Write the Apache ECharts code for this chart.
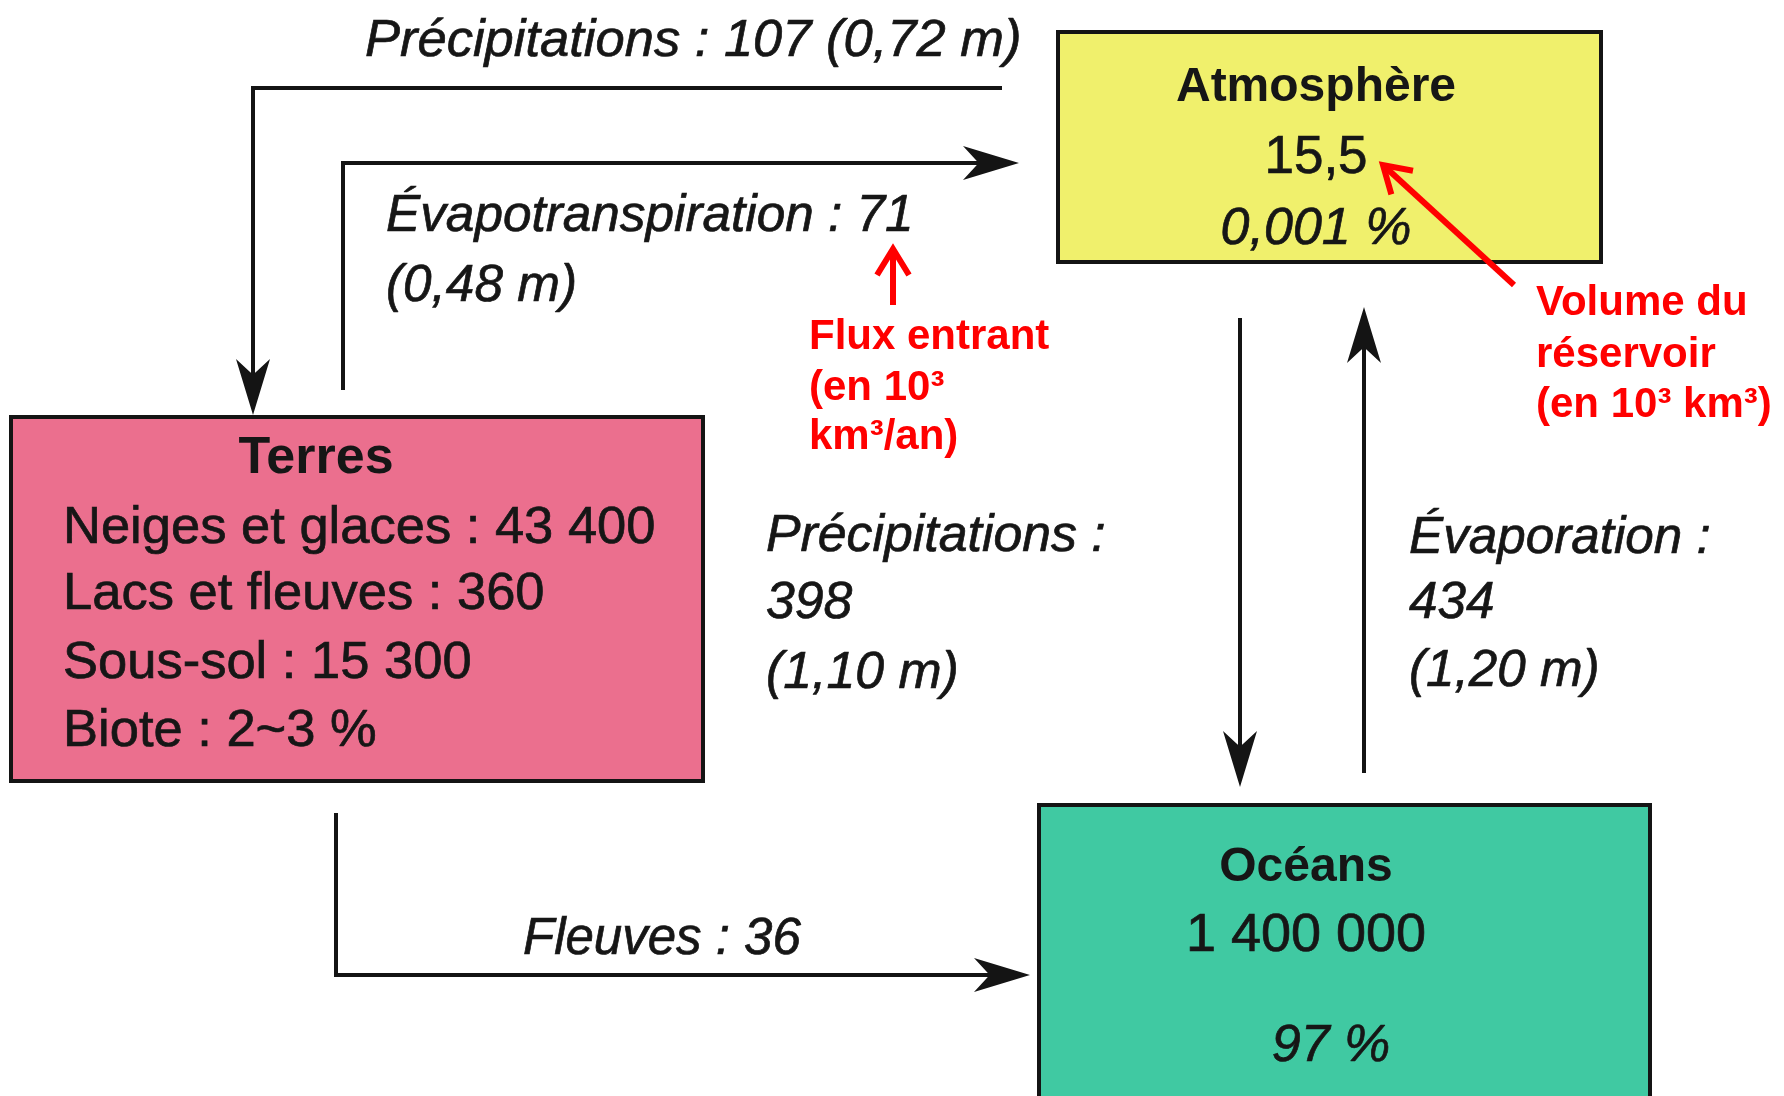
<!DOCTYPE html>
<html>
<head>
<meta charset="utf-8">
<script src="https://cdn.jsdelivr.net/npm/echarts@6/dist/echarts.min.js"></script>
<style>
html,body{margin:0;padding:0;background:#fff;}
#chart{width:1784px;height:1096px;}
</style>
</head>
<body>
<div id="chart"></div>
<script>
// ---------- DATA ----------
const reservoirNames = ['Atmosphère', 'Terres', 'Océans'];
const atmosphereValues = ['15,5', '0,001 %'];
const terresItems = ['Neiges et glaces', 'Lacs et fleuves', 'Sous-sol', 'Biote'];
const terresValues = ['43 400', '360', '15 300', '2~3 %'];
const oceanValues = ['1 400 000', '97 %'];
const fluxNames = ['Précipitations', 'Évapotranspiration', 'Précipitations', 'Évaporation', 'Fleuves'];
const fluxValues = [107, 71, 398, 434, 36];
const fluxDepths = ['0,72 m', '0,48 m', '1,10 m', '1,20 m', ''];
const annotationTexts = [['Flux entrant', '(en 10³', 'km³/an)'], ['Volume du', 'réservoir', '(en 10³ km³)']];

// ---------- LAYOUT (diagram units = pixels of a 1784 x 1096 canvas) ----------
const W = 1784, H = 1096;
const FONT = '"Liberation Sans", Arial, sans-serif';
const boxLayout = [[1058, 32, 1601, 262], [11, 417, 703, 781], [1039, 805, 1650, 1110]];
const boxColors = ['#F0F06C', '#EB6F8E', '#40C9A2'];
const reservoirTextLayout = [
  [{x: 1316, y: 100, a: 'center', w: 'bold', s: 48}, {x: 1316, y: 172, a: 'center', s: 53}, {x: 1316, y: 243, a: 'center', i: true, s: 52}],
  [{x: 316, y: 472, a: 'center', w: 'bold', s: 52}, {x: 63, y: 542, a: 'left', s: 52.5}, {x: 63, y: 608, a: 'left', s: 52.5}, {x: 63, y: 677, a: 'left', s: 52.5}, {x: 63, y: 745, a: 'left', s: 52.5}],
  [{x: 1306, y: 880, a: 'center', w: 'bold', s: 48}, {x: 1306, y: 950, a: 'center', s: 54}, {x: 1331, y: 1060, a: 'center', i: true, s: 52}]
];
const fluxPaths = [
  [[1002, 88], [253, 88], [253, 415]],
  [[343, 390], [343, 163], [1019, 163]],
  [[1240, 318], [1240, 787]],
  [[1364, 773], [1364, 307]],
  [[336, 813], [336, 975], [1030, 975]]
];
const fluxLabelLayout = [
  {x: 365, y: [55], fmt: 'oneline', s: 52.5},
  {x: 386, y: [230, 300], fmt: 'two', s: 51.3},
  {x: 766, y: [550, 617, 687], fmt: 'three', s: 51.8},
  {x: 1409, y: [552, 617, 685], fmt: 'three', s: 51.2},
  {x: 523, y: [953], fmt: 'novalue', s: 51}
];
const annotationArrows = [[[893, 305], [893, 249]], [[1514, 285], [1383, 165]]];
const annotationTextLayout = [{x: 809, y: [347, 398, 447]}, {x: 1536, y: [313, 365, 415]}];

// ---------- helpers ----------
function textEl(api, x, baseline, text, o) {
  const fs = o.s || 52;
  const p = api.coord([x, baseline]);
  const fill = o.fill || '#161616';
  const style = {
    x: p[0], y: p[1] - 0.35 * fs + 5, text: text,
    fill: fill,
    fontSize: fs, fontFamily: FONT,
    fontStyle: o.i ? 'italic' : 'normal',
    fontWeight: o.w || 'normal',
    align: o.a || 'left', verticalAlign: 'middle'
  };
  if (!o.w) { style.stroke = fill; style.lineWidth = 0.7; }
  return {type: 'text', style: style};
}
function stealthHead(tip, from, L, hw) {
  const dx = tip[0] - from[0], dy = tip[1] - from[1];
  const len = Math.hypot(dx, dy); const ux = dx / len, uy = dy / len;
  const nx = -uy, ny = ux;
  const bx = tip[0] - ux * L, by = tip[1] - uy * L;
  const notch = [tip[0] - ux * L * 0.72, tip[1] - uy * L * 0.72];
  return [tip, [bx + nx * hw, by + ny * hw], notch, [bx - nx * hw, by - ny * hw]];
}
function reservoirLines(i) {
  if (i === 0) return [reservoirNames[0]].concat(atmosphereValues);
  if (i === 1) return [reservoirNames[1]].concat(terresItems.map((t, k) => t + ' : ' + terresValues[k]));
  return [reservoirNames[2]].concat(oceanValues);
}
function fluxLines(i) {
  const f = fluxLabelLayout[i].fmt, n = fluxNames[i], v = fluxValues[i], d = fluxDepths[i];
  if (f === 'oneline') return [n + ' : ' + v + ' (' + d + ')'];
  if (f === 'two') return [n + ' : ' + v, '(' + d + ')'];
  if (f === 'three') return [n + ' :', String(v), '(' + d + ')'];
  return [n + ' : ' + v];
}

const chart = echarts.init(document.getElementById('chart'), null, {renderer: 'canvas'});
chart.setOption({
  backgroundColor: '#ffffff',
  animation: false,
  grid: {left: 0, right: 0, top: 0, bottom: 0},
  xAxis: {type: 'value', min: 0, max: W, show: false},
  yAxis: {type: 'value', min: 0, max: H, inverse: true, show: false},
  series: [
    {
      name: 'Réservoirs', type: 'custom', coordinateSystem: 'cartesian2d', clip: false,
      data: boxLayout.map(b => [(b[0] + b[2]) / 2, (b[1] + b[3]) / 2]),
      renderItem: function (params, api) {
        const i = params.dataIndex, b = boxLayout[i];
        const p0 = api.coord([b[0], b[1]]), p1 = api.coord([b[2], b[3]]);
        const children = [{
          type: 'rect',
          shape: {x: p0[0], y: p0[1], width: p1[0] - p0[0], height: p1[1] - p0[1]},
          style: {fill: boxColors[i], stroke: '#141414', lineWidth: 4}
        }];
        const lines = reservoirLines(i);
        reservoirTextLayout[i].forEach((o, k) => children.push(textEl(api, o.x, o.y, lines[k], o)));
        return {type: 'group', children: children};
      }
    },
    {
      name: 'Flux', type: 'custom', coordinateSystem: 'cartesian2d', clip: false,
      data: fluxPaths.map(p => p[p.length - 1]),
      renderItem: function (params, api) {
        const i = params.dataIndex, path = fluxPaths[i].map(q => api.coord(q));
        const tip = path[path.length - 1], prev = path[path.length - 2];
        const L = 56, hw = 17;
        const dx = tip[0] - prev[0], dy = tip[1] - prev[1], len = Math.hypot(dx, dy);
        const stop = [tip[0] - dx / len * L * 0.6, tip[1] - dy / len * L * 0.6];
        const pts = path.slice(0, -1).concat([stop]);
        const children = [
          {type: 'polyline', shape: {points: pts}, style: {stroke: '#141414', lineWidth: 4, fill: null, lineJoin: 'miter'}},
          {type: 'polygon', shape: {points: stealthHead(tip, prev, L, hw)}, style: {fill: '#141414'}}
        ];
        const lay = fluxLabelLayout[i];
        fluxLines(i).forEach((t, k) => children.push(textEl(api, lay.x, lay.y[k], t, {i: true, s: lay.s})));
        return {type: 'group', children: children};
      }
    },
    {
      name: 'Annotations', type: 'custom', coordinateSystem: 'cartesian2d', clip: false,
      data: annotationArrows.map(a => a[1]),
      renderItem: function (params, api) {
        const i = params.dataIndex;
        const a = api.coord(annotationArrows[i][0]), t = api.coord(annotationArrows[i][1]);
        const dx = t[0] - a[0], dy = t[1] - a[1], len = Math.hypot(dx, dy);
        const ux = dx / len, uy = dy / len, nx = -uy, ny = ux, L = 26, hw = 16;
        const w1 = [t[0] - ux * L + nx * hw, t[1] - uy * L + ny * hw];
        const w2 = [t[0] - ux * L - nx * hw, t[1] - uy * L - ny * hw];
        const children = [
          {type: 'line', shape: {x1: a[0], y1: a[1], x2: t[0] - ux * 3, y2: t[1] - uy * 3}, style: {stroke: '#FF0000', lineWidth: 6}},
          {type: 'polyline', shape: {points: [w1, t, w2]}, style: {stroke: '#FF0000', lineWidth: 6, fill: null, lineJoin: 'miter'}}
        ];
        const lay = annotationTextLayout[i];
        annotationTexts[i].forEach((s, k) => children.push(textEl(api, lay.x, lay.y[k], s, {w: 'bold', s: 42, fill: '#FF0000'})));
        return {type: 'group', children: children};
      }
    }
  ]
});
</script>
</body>
</html>
